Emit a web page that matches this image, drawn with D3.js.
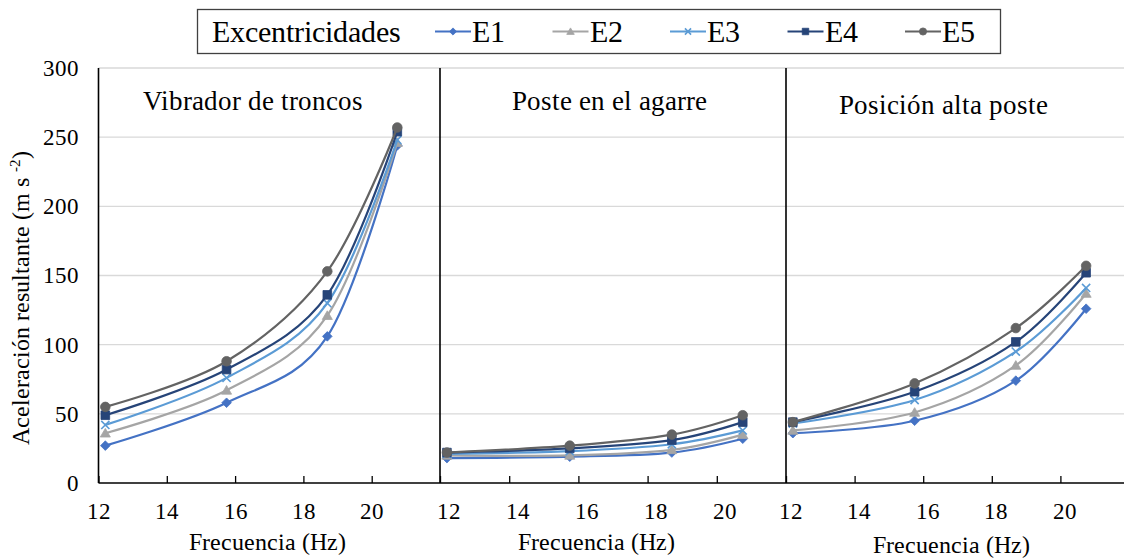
<!DOCTYPE html>
<html>
<head>
<meta charset="utf-8">
<script src="https://cdn.jsdelivr.net/npm/d3@7/dist/d3.min.js"></script>
<style>
  @font-face {
    font-family: "ChartSerif";
    src: local("Liberation Serif"), local("LiberationSerif"), local("LiberationSerif-Regular"), local("Tinos"), local("Times New Roman");
  }
  html, body { margin: 0; padding: 0; background: #fff; }
  svg { display: block; }
</style>
</head>
<body>
<svg id="chart" width="1124" height="560"></svg>
<script>
// Frequencies (Hz) at which the acceleration was measured
const frequencies = [12.2, 15.75, 18.7, 20.75];

// Series names (eccentricity levels)
const seriesNames = ["E1", "E2", "E3", "E4", "E5"];

// Panel titles
const panelTitles = ["Vibrador de troncos", "Poste en el agarre", "Posición alta poste"];

// Resultant acceleration (m s-2), one array per series, per panel
const vibradorValues = [
  [27, 58, 106, 244],
  [36, 67, 121, 246],
  [42, 76, 130, 248],
  [49, 82, 136, 254],
  [55, 88, 153, 257]
];
const agarreValues = [
  [18, 19, 22, 32],
  [20, 20, 24, 35],
  [21, 23, 28, 38],
  [22, 25, 31, 44],
  [22, 27, 35, 49]
];
const altaValues = [
  [36, 45, 74, 126],
  [38, 51, 85, 137],
  [43, 60, 95, 141],
  [44, 66, 102, 152],
  [44, 72, 112, 157]
];
const panelValues = [vibradorValues, agarreValues, altaValues];

// Tick labels
const xTicks = [12, 14, 16, 18, 20];
const yTicks = [0, 50, 100, 150, 200, 250, 300];

// Styles
const colors = ["#4472C4", "#A5A5A5", "#5B9BD5", "#264478", "#636363"];
const markerKinds = ["diamond", "triangle", "cross", "square", "circle"];
const FONT = 'ChartSerif, "Liberation Serif", Tinos, serif';

// Layout
const W = 1124;
const plotTop = 68, plotBottom = 483;
const panelEdges = [98.5, 440, 786, 1129];
const labelShift = [0, 8, 4];
const titleX = [253, 609, 943];
const titleBaselines = [110, 110, 114];
const axisTitleX = [267, 596, 951];
const axisTitleY = [550, 550, 553];

const svg = d3.select("#chart");

// apply the serif face and a size to a text selection
function setFont(sel, size) {
  return sel
    .style("font-family", FONT)
    .style("font-size", size + "px")
    .attr("fill", "#000");
}

const y = d3.scaleLinear().domain([0, 300]).range([plotBottom, plotTop]);

// Gridlines
svg.append("g")
  .selectAll("line")
  .data(yTicks.filter(d => d > 0))
  .join("line")
  .attr("x1", panelEdges[0]).attr("x2", W)
  .attr("y1", d => y(d)).attr("y2", d => y(d))
  .attr("stroke", "#d9d9d9").attr("stroke-width", 1.3);

// Y axis labels
const yAxis = svg.append("g")
  .attr("transform", `translate(${panelEdges[0]},0)`)
  .call(d3.axisLeft(y).tickValues(yTicks).tickSize(0).tickPadding(20));
yAxis.attr("font-family", null).attr("font-size", null);
yAxis.select(".domain").remove();
setFont(yAxis.selectAll("text"), 23);

// Y axis title
const yTitle = setFont(svg.append("text"), 23.5)
  .attr("transform", "translate(29,298) rotate(-90)")
  .attr("text-anchor", "middle");
yTitle.append("tspan").text("Aceleración resultante  (m s ");
yTitle.append("tspan").style("font-size", "15px").attr("dy", -9).text("-2");
yTitle.append("tspan").attr("dy", 9).text(")");

// Marker shapes
function markerPath(kind, s) {
  switch (kind) {
    case "diamond": return `M0,${-s}L${s},0L0,${s}L${-s},0Z`;
    case "triangle": return `M0,${-s}L${s * 1.05},${s * 0.8}L${-s * 1.05},${s * 0.8}Z`;
    case "square": return `M${-s * 0.9},${-s * 0.9}H${s * 0.9}V${s * 0.9}H${-s * 0.9}Z`;
    case "circle": return d3.symbol(d3.symbolCircle, Math.PI * s * s)();
    case "cross": return `M${-s * 0.85},${-s * 0.85}L${s * 0.85},${s * 0.85}M${s * 0.85},${-s * 0.85}L${-s * 0.85},${s * 0.85}`;
  }
}
function drawMarker(g, kind, color, s) {
  const p = g.append("path").attr("d", markerPath(kind, s));
  if (kind === "cross") {
    p.attr("fill", "none").attr("stroke", color).attr("stroke-width", 1.6);
  } else {
    p.attr("fill", color).attr("stroke", color).attr("stroke-width", 0.8);
  }
}

// Panels
panelValues.forEach((values, pi) => {
  const x = d3.scaleLinear().domain([12, 22]).range([panelEdges[pi], panelEdges[pi + 1]]);
  const g = svg.append("g");

  // bottom axis with inward ticks
  const xAxis = g.append("g")
    .attr("transform", `translate(0,${plotBottom})`)
    .call(d3.axisBottom(x).tickValues(xTicks).tickSizeInner(-7).tickSizeOuter(0));
  xAxis.attr("font-family", null).attr("font-size", null);
  xAxis.select(".domain").remove();
  xAxis.selectAll(".tick line").attr("stroke", "#000").attr("stroke-width", 1.3);
  setFont(xAxis.selectAll("text"), 23)
    .attr("y", 36).attr("dy", 0).attr("dx", labelShift[pi]);

  // x axis title
  setFont(g.append("text"), 23.5)
    .attr("x", axisTitleX[pi]).attr("y", axisTitleY[pi])
    .attr("text-anchor", "middle")
    .text("Frecuencia (Hz)");

  // panel title
  setFont(g.append("text"), 27)
    .attr("x", titleX[pi])
    .attr("y", titleBaselines[pi])
    .attr("text-anchor", "middle")
    .text(panelTitles[pi]);

  // series lines and markers
  const line = d3.line()
    .x((d, i) => x(frequencies[i]))
    .y(d => y(d))
    .curve(d3.curveCatmullRom.alpha(0));

  values.forEach((vals, si) => {
    g.append("path")
      .attr("d", line(vals))
      .attr("fill", "none")
      .attr("stroke", colors[si])
      .attr("stroke-width", 2.2);
    vals.forEach((v, i) => {
      const m = g.append("g").attr("transform", `translate(${x(frequencies[i])},${y(v)})`);
      drawMarker(m, markerKinds[si], colors[si], 4.8);
    });
  });
});

// Axis lines and panel dividers
const axes = svg.append("g").attr("stroke", "#000").attr("stroke-width", 1.6);
axes.append("line")
  .attr("x1", panelEdges[0]).attr("x2", W)
  .attr("y1", plotBottom).attr("y2", plotBottom);
axes.selectAll("line.v")
  .data(panelEdges.slice(0, 3))
  .join("line").attr("class", "v")
  .attr("x1", d => d).attr("x2", d => d)
  .attr("y1", plotTop).attr("y2", plotBottom);

// Legend
const legend = svg.append("g");
legend.append("rect")
  .attr("x", 197.5).attr("y", 9.5).attr("width", 803).attr("height", 44)
  .attr("fill", "#fff").attr("stroke", "#404040").attr("stroke-width", 1.3);
setFont(legend.append("text"), 29.5)
  .attr("x", 212).attr("y", 42)
  .text("Excentricidades");
const legendX = d3.scaleLinear().domain([0, 4]).range([435, 905]);
seriesNames.forEach((name, si) => {
  const x0 = legendX(si);
  const item = legend.append("g");
  item.append("line")
    .attr("x1", x0).attr("x2", x0 + 36)
    .attr("y1", 31.5).attr("y2", 31.5)
    .attr("stroke", colors[si]).attr("stroke-width", 2.2);
  const m = item.append("g").attr("transform", `translate(${x0 + 18},31.5)`);
  drawMarker(m, markerKinds[si], colors[si], 3.6);
  setFont(item.append("text"), 29.5)
    .attr("x", x0 + 37).attr("y", 42)
    .text(name);
});
</script>
</body>
</html>
